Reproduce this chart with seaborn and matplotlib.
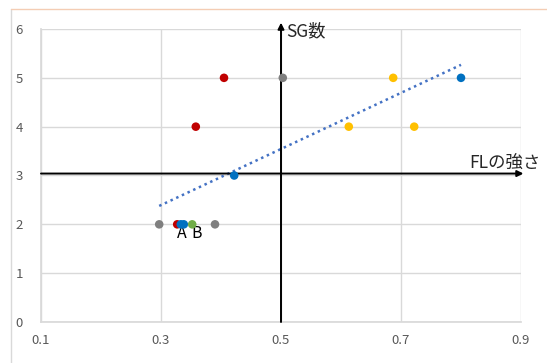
import matplotlib
matplotlib.use("Agg")
import matplotlib.pyplot as plt
import numpy as np
import pandas as pd
import seaborn as sns

# data
fl_strength = [0.297, 0.327, 0.333, 0.338, 0.352, 0.390, 0.405, 0.358,
               0.503, 0.422, 0.613, 0.687, 0.722, 0.800]
sg_count = [2, 2, 2, 2, 2, 2, 5, 4, 5, 3, 4, 5, 4, 5]
group = ["gray", "red", "blue", "blue", "green", "gray", "red", "red",
         "gray", "blue", "yellow", "yellow", "yellow", "blue"]
x_ticks = [0.1, 0.3, 0.5, 0.7, 0.9]
y_ticks = [0, 1, 2, 3, 4, 5, 6]

palette = {"gray": "#7F7F7F", "red": "#C00000", "blue": "#0070C0",
           "green": "#70AD47", "yellow": "#FFC000"}

df = pd.DataFrame({"x": fl_strength, "y": sg_count, "group": group})

sns.set_theme(style="white")
plt.rcParams["font.family"] = ["Noto Sans CJK JP", "DejaVu Sans"]

fig = plt.figure(figsize=(5.47, 3.63), dpi=100)
ax = fig.add_axes([41 / 547, 1 - 322 / 363, 480 / 547, 293 / 363])

# chart frame
fig.add_artist(plt.Line2D([11 / 547, 11 / 547], [0, 1 - 9 / 363],
                          transform=fig.transFigure, color="#D9D9D9", lw=1))
fig.add_artist(plt.Line2D([11 / 547, 1], [1 - 9 / 363, 1 - 9 / 363],
                          transform=fig.transFigure, color="#F4CDB4", lw=1))

ax.set_xlim(0.1, 0.9)
ax.set_ylim(0, 6)
ax.set_xticks(x_ticks)
ax.set_yticks(y_ticks)
ax.set_xticklabels([f"{t:.1f}" for t in x_ticks])
ax.grid(True, color="#D9D9D9", lw=1)
for side in ["top", "right"]:
    ax.spines[side].set_visible(False)
ax.spines["left"].set_color("#D9D9D9")
ax.spines["bottom"].set_color("#D9D9D9")
ax.tick_params(axis="both", colors="#595959", labelsize=9.5, length=0, pad=9)
ax.tick_params(axis="y", pad=13)

# trendline (linear fit over all points)
slope, intercept = np.polyfit(df["x"], df["y"], 1)
tx = np.array([df["x"].min(), df["x"].max()])
ax.plot(tx, slope * tx + intercept, color="#4472C4", lw=1.8,
        linestyle=(0, (1, 1.5)), zorder=2)

sns.scatterplot(data=df, x="x", y="y", hue="group", palette=palette,
                s=38, edgecolor="none", legend=False, ax=ax, zorder=4)
ax.set_xlabel("")
ax.set_ylabel("")

# axis arrows
ax.annotate("", xy=(0.5, 6.13), xytext=(0.5, 0), annotation_clip=False,
            arrowprops=dict(arrowstyle="-|>", color="black", lw=1.4,
                            mutation_scale=9, shrinkA=0, shrinkB=0), zorder=3)
ax.annotate("", xy=(0.904, 3.04), xytext=(0.1, 3.04), annotation_clip=False,
            arrowprops=dict(arrowstyle="-|>", color="black", lw=1.4,
                            mutation_scale=9, shrinkA=0, shrinkB=0), zorder=3)
ax.text(0.509, 5.96, "SG数", fontsize=12.5, color="#262626", va="center", ha="left")
ax.text(0.814, 3.24, "FLの強さ", fontsize=12.5, color="#262626", va="center",
        ha="left", clip_on=False)

ax.text(0.335, 1.82, "A", fontsize=11.5, color="black", ha="center", va="center")
ax.text(0.36, 1.82, "B", fontsize=11.5, color="black", ha="center", va="center")

fig.savefig("out.png", dpi=100)
